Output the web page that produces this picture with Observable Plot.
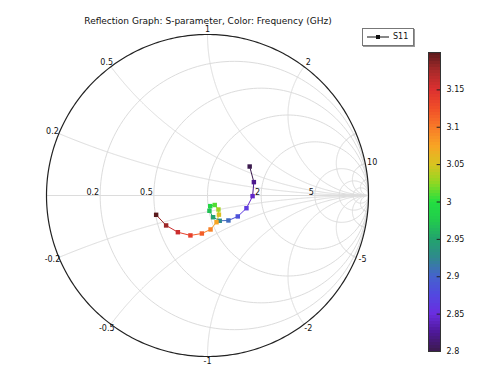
<!DOCTYPE html>
<html><head><meta charset="utf-8">
<script src="https://cdn.jsdelivr.net/npm/d3@7"></script>
<script src="https://cdn.jsdelivr.net/npm/@observablehq/plot@0.6"></script>
<style>
body{margin:0;background:#fff;font-family:"DejaVu Sans",sans-serif}
#wrap{position:relative;width:479px;height:366px;overflow:hidden;background:#fff}
#wrap svg{position:absolute;top:0}
#title{position:absolute;left:0;width:416px;top:16px;text-align:center;font-size:9px;line-height:11px;color:#111;white-space:nowrap}
#legend{position:absolute;left:362px;top:28px;width:50px;height:16px;border:1px solid #777;box-shadow:1px 1px 0 #999;background:#fff;font-size:8px;color:#111}
#legend svg{position:absolute;left:3px;top:3px}
#legend span{position:absolute;left:30px;top:3px;line-height:10px}
</style></head>
<body><div id="wrap">
<div id="title">Reflection Graph: S-parameter, Color: Frequency (GHz)</div>
</div>
<script>
// Data
const freq = [2.8, 2.821, 2.842, 2.863, 2.884, 2.905, 2.926, 2.947, 2.968, 2.989, 3.011, 3.032, 3.053, 3.074, 3.095, 3.116, 3.137, 3.158, 3.179, 3.2];
const s11Re = [0.262, 0.288, 0.280, 0.242, 0.188, 0.130, 0.076, 0.035, 0.012, 0.017, 0.045, 0.068, 0.071, 0.056, 0.019, -0.035, -0.106, -0.184, -0.257, -0.319];
const s11Im = [0.180, 0.083, -0.004, -0.079, -0.130, -0.155, -0.157, -0.135, -0.095, -0.066, -0.059, -0.087, -0.119, -0.166, -0.211, -0.236, -0.248, -0.228, -0.186, -0.120];
const resistanceGrid = [0.2, 0.5, 1, 2, 5, 10, 20];
const reactanceGrid = [0.2, 0.5, 1, 2, 5, 10, 20, -0.2, -0.5, -1, -2, -5, -10, -20];
const rimLabels = [0.2, 0.5, 1, 2, 10, -0.2, -0.5, -1, -2, -5];
const axisLabels = [0.2, 0.5, 2, 5];
const colorTicks = [2.8, 2.85, 2.9, 2.95, 3.0, 3.05, 3.1, 3.15];
const colorDomain = [2.8, 3.2];
const colorStops = ["#3b1a4e","#4e1898","#6a2ee0","#5248e0","#4563cc","#2f8a8c","#22a46c","#22cc4c","#22e040","#8ed822","#d8c420","#f8a424","#f87a28","#f04e28","#dc3030","#a82a2a","#5a1a1c"];

const interp = d3.piecewise(d3.interpolateRgb, colorStops);
const colorOpts = {type: "linear", domain: colorDomain, interpolate: interp};

// Smith chart grid geometry
function gamma(r, x) {
  const d = (r + 1) * (r + 1) + x * x;
  return {x: ((r - 1) * (r + 1) + x * x) / d, y: 2 * x / d};
}
const gridPts = [];
resistanceGrid.forEach((r, i) => {
  const c = r / (1 + r), rho = 1 / (1 + r);
  for (let a = 0; a <= 360; a += 2) {
    const t = a * Math.PI / 180;
    gridPts.push({id: "r" + i, x: c + rho * Math.cos(t), y: rho * Math.sin(t)});
  }
});
reactanceGrid.forEach((xv, i) => {
  for (let k = 0; k < 400; k++) {
    const r = Math.tan(k / 400 * Math.PI / 2);
    gridPts.push({id: "x" + i, ...gamma(r, xv)});
  }
  gridPts.push({id: "x" + i, x: 1, y: 0});
});
gridPts.push({id: "axis", x: -1, y: 0}, {id: "axis", x: 1, y: 0});

const rimPts = [];
for (let a = 0; a <= 360; a += 1) {
  const t = a * Math.PI / 180;
  rimPts.push({x: Math.cos(t), y: Math.sin(t)});
}
const kx = 1 + 7 / 161, ky = 1 + 5 / 161;
const rimLabelData = rimLabels.map(v => {
  const g = gamma(0, v);
  return {x: g.x * kx, y: g.y * ky, text: String(v)};
});
const axisLabelData = axisLabels.map(v => ({x: (v - 1) / (v + 1), y: 0, text: String(v)}));

const pts = freq.map((f, i) => ({f, x: s11Re[i], y: s11Im[i]}));
const segs = pts.slice(0, -1).map((p, i) => ({x1: p.x, y1: p.y, x2: pts[i + 1].x, y2: pts[i + 1].y, f: p.f}));

const main = Plot.plot({
  width: 479, height: 366,
  marginLeft: 46, marginRight: 111, marginTop: 34, marginBottom: 10,
  x: {domain: [-1, 1], axis: null},
  y: {domain: [-1, 1], axis: null},
  color: colorOpts,
  style: {fontFamily: "DejaVu Sans", fontSize: "8px", background: "transparent"},
  marks: [
    Plot.line(gridPts, {x: "x", y: "y", z: "id", stroke: "#dcdcdc", strokeWidth: 1}),
    Plot.line(rimPts, {x: "x", y: "y", stroke: "#222", strokeWidth: 1.2}),
    Plot.text(rimLabelData, {x: "x", y: "y", text: "text", fill: "#111"}),
    Plot.text(axisLabelData, {x: "x", y: "y", text: "text", fill: "#111", textAnchor: "end", lineAnchor: "bottom", dx: -1, dy: -1}),
    Plot.link(segs, {x1: "x1", y1: "y1", x2: "x2", y2: "y2", stroke: "f", strokeWidth: 1}),
    Plot.dot(pts, {x: "x", y: "y", fill: "f", symbol: "square", r: 2.5})
  ]
});
main.style.left = "0px";
document.getElementById("wrap").appendChild(main);

const ramp = d3.range(0, 100).map(i => ({y1: 2.8 + 0.004 * i, y2: 2.8 + 0.004 * (i + 1)}));
const bar = Plot.plot({
  width: 69, height: 366,
  marginLeft: 18, marginRight: 39, marginTop: 52, marginBottom: 15,
  x: {domain: [0, 1], axis: null},
  y: {domain: colorDomain, axis: null},
  color: colorOpts,
  style: {fontFamily: "DejaVu Sans", fontSize: "8px", background: "transparent"},
  marks: [
    Plot.rect(ramp, {x1: 0, x2: 1, y1: "y1", y2: "y2", fill: d => (d.y1 + d.y2) / 2, shapeRendering: "crispEdges"}),
    Plot.ruleY(colorTicks, {x1: 0.72, x2: 1, stroke: "#222"}),
    Plot.frame({stroke: "#333"}),
    Plot.axisY(colorTicks, {anchor: "right", tickSize: 0, tickPadding: 6, tickFormat: d => String(+d.toFixed(2)), fill: "#111"})
  ]
});
bar.style.left = "410px";
document.getElementById("wrap").appendChild(bar);

const leg = document.createElement("div");
leg.id = "legend";
leg.innerHTML = '<svg width="24" height="10"><line x1="1" y1="5" x2="23" y2="5" stroke="#111" stroke-width="1"/><rect x="10" y="3" width="4" height="4" fill="#111"/></svg><span>S11</span>';
document.getElementById("wrap").appendChild(leg);
</script>
</body></html>
